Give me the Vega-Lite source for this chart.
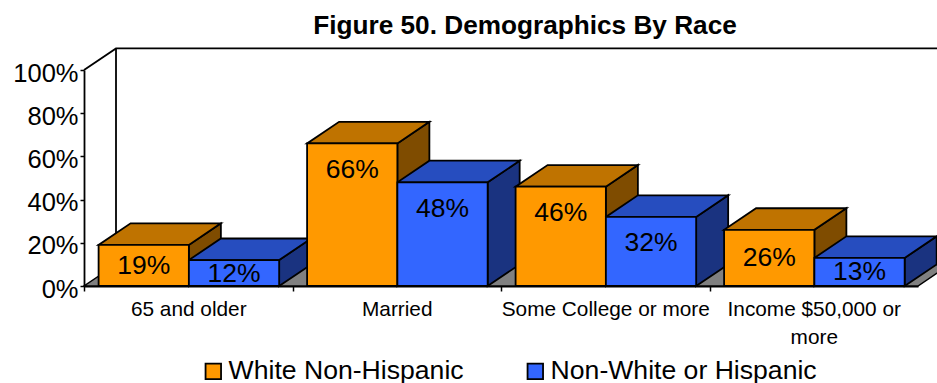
{
"$schema":"https://vega.github.io/schema/vega-lite/v6.json",
"width":834,"height":216,
"autosize":"none",
"padding":{"left":84,"top":70,"right":19,"bottom":97},
"background":"white",
"config":{"font":"Liberation Sans","view":{"stroke":null},"text":{"font":"Liberation Sans"}},
"title":{"text":"Figure 50. Demographics By Race","fontSize":26.2,"fontWeight":"bold","color":"#000000","anchor":"middle","dx":24,"offset":6},
"datasets":{
"bars":[
{"category":"65 and older","series":"White Non-Hispanic","value":19},
{"category":"65 and older","series":"Non-White or Hispanic","value":12},
{"category":"Married","series":"White Non-Hispanic","value":66},
{"category":"Married","series":"Non-White or Hispanic","value":48},
{"category":"Some College or more","series":"White Non-Hispanic","value":46},
{"category":"Some College or more","series":"Non-White or Hispanic","value":32},
{"category":"Income $50,000 or more","series":"White Non-Hispanic","value":26},
{"category":"Income $50,000 or more","series":"Non-White or Hispanic","value":13}
]},
"transform":[],
"encoding":{},
"layer":[
{"data":{"values":[{"x":0,"y":0,"y2":0},{"x":0.1535,"y":0,"y2":10},{"x":4,"y":0,"y2":10},{"x":4.1535,"y":10,"y2":10}]},
"mark":{"type":"area","orient":"vertical","fill":"#808080","stroke":"#000000","strokeWidth":1.5,"clip":false},
"encoding":{
"x":{"field":"x","type":"quantitative","scale":{"domain":[0,4],"nice":false,"zero":false},
"axis":{"title":null,"grid":false,"values":[0.5,1.5,2.5,3.5,4.5],"tickOffset":-104.25,"labelOffset":104.25,"ticks":true,"tickSize":5,"tickColor":"#000000","tickWidth":1.5,"domain":true,"domainColor":"#000000","domainWidth":1.8,"labelFontSize":20.8,"labelColor":"#000000","labelPadding":8,"labelLimit":0,"labelOverlap":false,"labelFlush":false,"labelBound":false,"labelLineHeight":28,"labelBaseline":"top",
"labelExpr":"datum.value==0.5?'65 and older':datum.value==1.5?'Married':datum.value==2.5?'Some College or more':datum.value==3.5?['Income $50,000 or','more']:''"}},
"y":{"field":"y","type":"quantitative","scale":{"domain":[0,100],"nice":false},
"axis":{"title":null,"grid":false,"values":[0,20,40,60,80,100],"tickSize":4,"tickColor":"#000000","tickWidth":1.5,"domainColor":"#000000","domainWidth":1.8,"labelFontSize":25.5,"labelColor":"#000000","labelPadding":2,"labelOffset":3,"labelExpr":"datum.value+'%'"}},
"y2":{"field":"y2"}}},
{"data":{"values":[{"edge":"a","x":0,"y":100},{"edge":"a","x":0.1535,"y":110},{"edge":"a","x":4.1535,"y":110},{"edge":"b","x":0.1535,"y":110},{"edge":"b","x":0.1535,"y":10}]},
"mark":{"type":"line","color":"#000000","strokeWidth":1.8,"clip":false},
"encoding":{"x":{"field":"x","type":"quantitative"},"y":{"field":"y","type":"quantitative"},"detail":{"field":"edge"}}},
{"data":{"name":"bars"},
"transform":[
{"calculate":"indexof(['65 and older','Married','Some College or more','Income $50,000 or more'],datum.category)+0.07+(datum.series==='White Non-Hispanic'?0:0.433)+0.433","as":"right"},
{"calculate":"[0,1]","as":"t"},{"flatten":["t"]},
{"calculate":"datum.right+datum.t*0.1535","as":"px"},
{"calculate":"datum.t*10","as":"py"},
{"calculate":"datum.value+datum.t*10","as":"py2"}],
"mark":{"type":"area","orient":"vertical","stroke":"#000000","strokeWidth":1.8,"clip":false},
"encoding":{"x":{"field":"px","type":"quantitative"},"y":{"field":"py","type":"quantitative"},"y2":{"field":"py2"},
"detail":[{"field":"category"},{"field":"series"}],
"fill":{"condition":{"test":"datum.series==='White Non-Hispanic'","value":"#7F4C00"},"value":"#1A3380"}}},
{"data":{"name":"bars"},
"transform":[
{"calculate":"indexof(['65 and older','Married','Some College or more','Income $50,000 or more'],datum.category)+0.07+(datum.series==='White Non-Hispanic'?0:0.433)","as":"left"},
{"calculate":"[[0,0,0],[0.1535,0,10],[0.433,0,10],[0.5865,10,10]]","as":"p"},{"flatten":["p"]},
{"calculate":"datum.left+datum.p[0]","as":"px"},
{"calculate":"datum.value+datum.p[1]","as":"py"},
{"calculate":"datum.value+datum.p[2]","as":"py2"}],
"mark":{"type":"area","orient":"vertical","stroke":"#000000","strokeWidth":1.8,"clip":false},
"encoding":{"x":{"field":"px","type":"quantitative"},"y":{"field":"py","type":"quantitative"},"y2":{"field":"py2"},
"detail":[{"field":"category"},{"field":"series"}],
"fill":{"condition":{"test":"datum.series==='White Non-Hispanic'","value":"#BF7300"},"value":"#264DBF"}}},
{"data":{"name":"bars"},
"transform":[
{"calculate":"indexof(['65 and older','Married','Some College or more','Income $50,000 or more'],datum.category)+0.07+(datum.series==='White Non-Hispanic'?0:0.433)","as":"left"},
{"calculate":"datum.left+0.433","as":"right"},
{"calculate":"0","as":"base"}],
"mark":{"type":"rect","stroke":"#000000","strokeWidth":1.8},
"encoding":{"x":{"field":"left","type":"quantitative"},"x2":{"field":"right"},"y":{"field":"value","type":"quantitative"},"y2":{"field":"base"},
"color":{"field":"series","type":"nominal","scale":{"domain":["White Non-Hispanic","Non-White or Hispanic"],"range":["#FF9900","#3366FF"]},
"legend":{"title":null,"orient":"none","legendX":116,"legendY":288,"direction":"horizontal","columns":2,"symbolType":"square","symbolSize":240,"symbolStrokeColor":"#000000","symbolStrokeWidth":1.8,"symbolOpacity":1,"labelFontSize":26.6,"labelColor":"#000000","labelLimit":0,"labelOffset":2,"columnPadding":58,"padding":0}}}},
{"data":{"name":"bars"},
"transform":[
{"calculate":"indexof(['65 and older','Married','Some College or more','Income $50,000 or more'],datum.category)+0.07+(datum.series==='White Non-Hispanic'?0:0.433)+0.2165","as":"mid"},
{"calculate":"datum.value>=32?datum.value-12:datum.value/2","as":"labelAt"},
{"calculate":"datum.value+'%'","as":"label"}],
"mark":{"type":"text","fontSize":26.5,"color":"#000000","align":"center","baseline":"middle","dy":0.5},
"encoding":{"x":{"field":"mid","type":"quantitative"},"y":{"field":"labelAt","type":"quantitative"},"text":{"field":"label"}}}
]}
